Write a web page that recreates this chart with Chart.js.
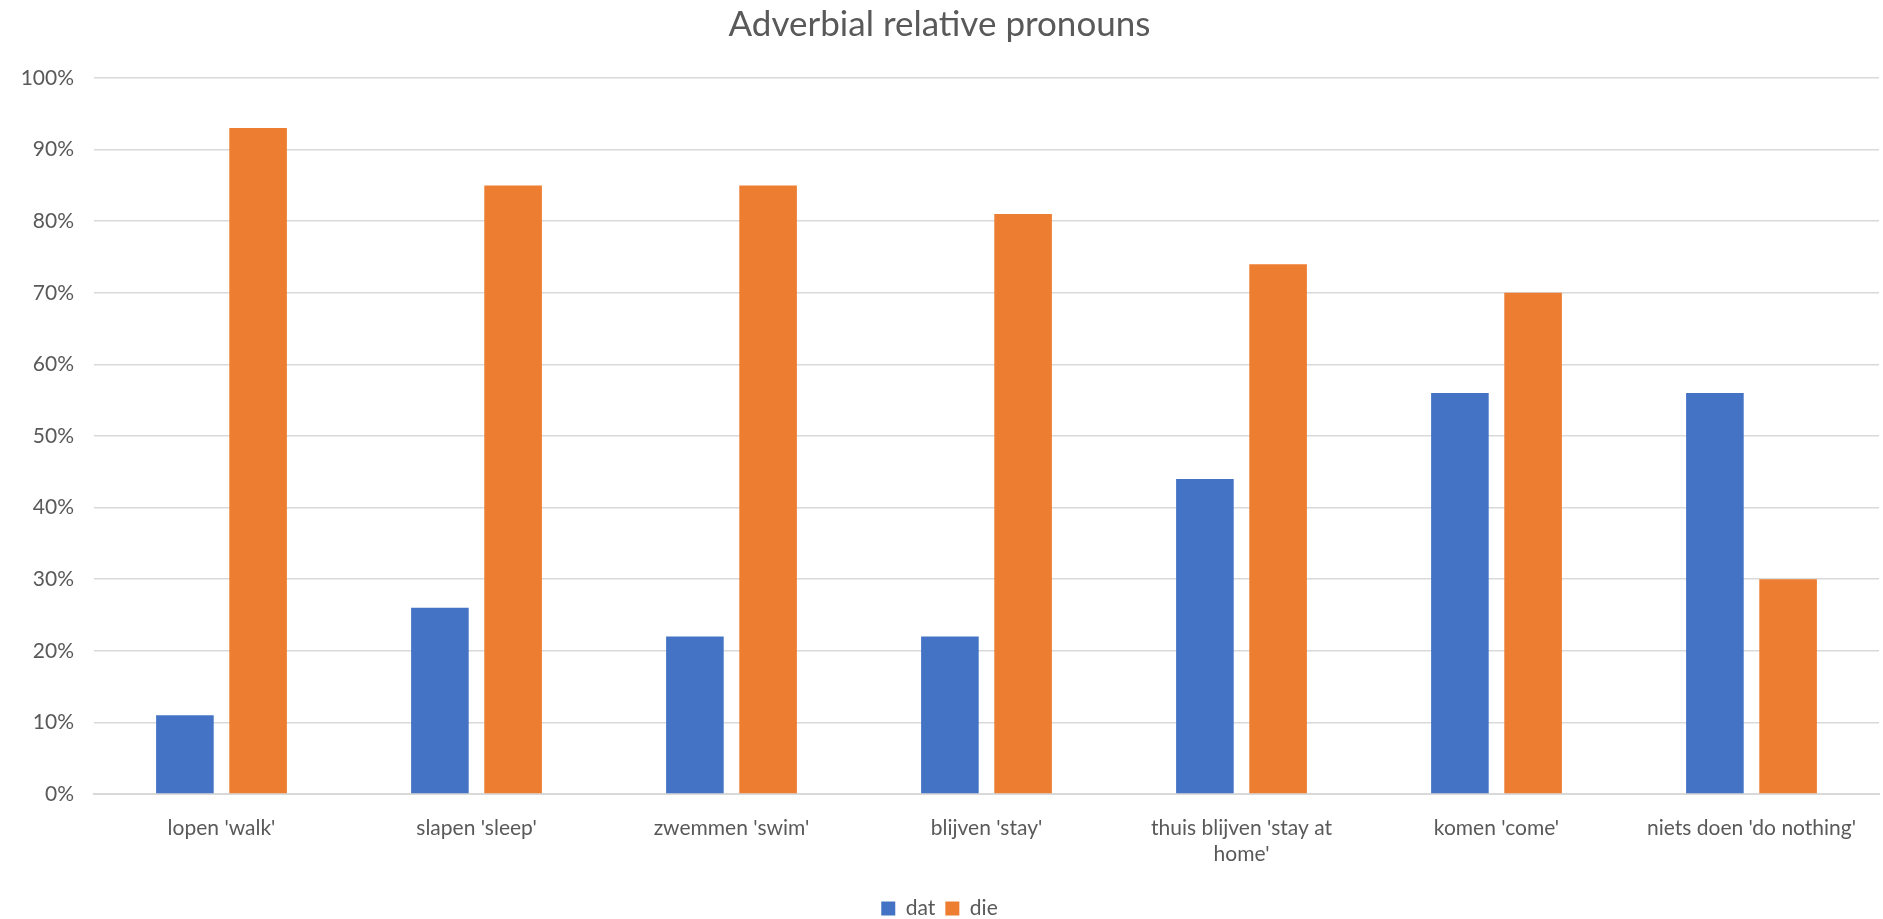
<!DOCTYPE html>
<html>
<head>
<meta charset="utf-8">
<script src="https://cdn.jsdelivr.net/npm/chart.js@4.4.0/dist/chart.umd.min.js"></script>
<style>
  html, body { margin: 0; padding: 0; background: #fff; }
  #wrap { width: 1883px; height: 919px; }
</style>
</head>
<body>
<div id="wrap"><canvas id="chart"></canvas></div>
<script>
const categories = [
  "lopen 'walk'",
  "slapen 'sleep'",
  "zwemmen 'swim'",
  "blijven 'stay'",
  ["thuis blijven 'stay at", "home'"],
  "komen 'come'",
  "niets doen 'do nothing'"
];
const datValues = [11, 26, 22, 22, 44, 56, 56];
const dieValues = [93, 85, 85, 81, 74, 70, 30];

const textColor = '#595959';
const fontFamily = 'Lato, "Open Sans", sans-serif';

const ctx = document.getElementById('chart');

new Chart(ctx, {
  type: 'bar',
  data: {
    labels: categories,
    datasets: [{
      label: 'dat',
      data: datValues,
      backgroundColor: '#4472C4'
    }, {
      label: 'die',
      data: dieValues,
      backgroundColor: '#ED7D31'
    }]
  },
  options: {
    responsive: true,
    maintainAspectRatio: false,
    animation: false,
    categoryPercentage: 0.574,
    barPercentage: 0.787,
    layout: { padding: { left: 0, right: 4, top: 4, bottom: -10 } },
    plugins: {
      title: {
        display: true,
        text: 'Adverbial relative pronouns',
        color: textColor,
        font: { family: fontFamily, size: 35, weight: 'normal' },
        padding: { top: 0, bottom: 32 }
      },
      legend: {
        position: 'bottom',
        labels: {
          color: textColor,
          font: { family: fontFamily, size: 21 },
          boxWidth: 14,
          boxHeight: 14,
          padding: 10
        }
      },
      tooltip: { enabled: false }
    },
    scales: {
      x: {
        grid: { display: false },
        border: { color: '#D9D9D9', width: 2 },
        ticks: {
          color: textColor,
          font: { family: fontFamily, size: 21 },
          padding: 14,
          maxRotation: 0,
          autoSkip: false
        },
        afterFit: function (scale) { scale.height = 94; }
      },
      y: {
        min: 0,
        max: 100,
        border: { display: false },
        grid: { color: '#D9D9D9', lineWidth: 1.5, drawTicks: false },
        ticks: {
          stepSize: 10,
          color: textColor,
          font: { family: fontFamily, size: 21 },
          padding: 20,
          callback: function (v) { return v + '%'; }
        },
        afterFit: function (scale) { scale.width = 94; }
      }
    }
  }
});
</script>
</body>
</html>
